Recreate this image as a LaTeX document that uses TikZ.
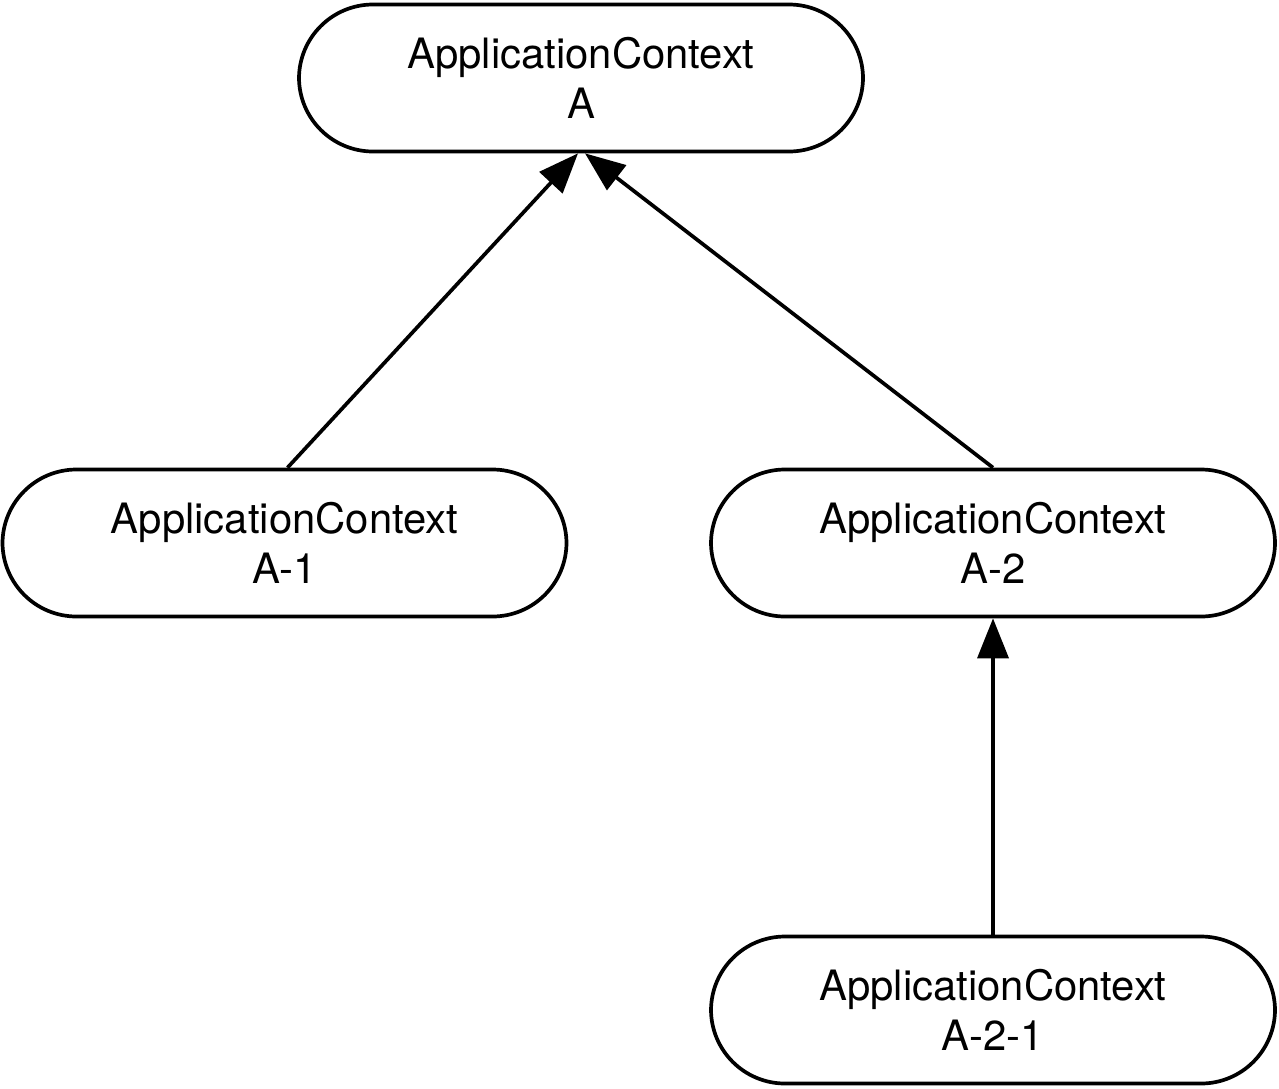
\documentclass[tikz,border=0pt]{standalone}
\usepackage{fontspec}
\setmainfont{TeX Gyre Heros}
\usetikzlibrary{arrows.meta}
\begin{document}
\begin{tikzpicture}[line width=1.05pt, every node/.style={font=\fontsize{11.9}{14.2}\selectfont}]

\tikzstyle{context} = [draw,rounded corners=0.74cm,minimum width=5.64cm,minimum height=1.47cm,align=center,inner sep=0];
\tikzstyle{boldarrow}=[-{Triangle[length=0.4cm,width=0.31cm]},line width=1.05pt];

\useasboundingbox (0,0) rectangle (12.79,-10.88);

\node[context] (v1) at (5.81,-0.78) {ApplicationContext\\A};
\node[context] (v2) at (2.845,-5.43) {ApplicationContext\\A-1};
\node[context] (v3) at (9.93,-5.43) {ApplicationContext\\A-2};
\node[context] (v4) at (9.93,-10.10) {ApplicationContext\\A-2-1};

\draw[boldarrow] ([xshift=0.03cm]v2.north) -- ([xshift=-0.03cm]v1.south);
\draw[boldarrow] (v3.north) -- ([xshift=0.04cm]v1.south);
\draw[boldarrow] (v4) -- (v3);
\end{tikzpicture}
\end{document}
